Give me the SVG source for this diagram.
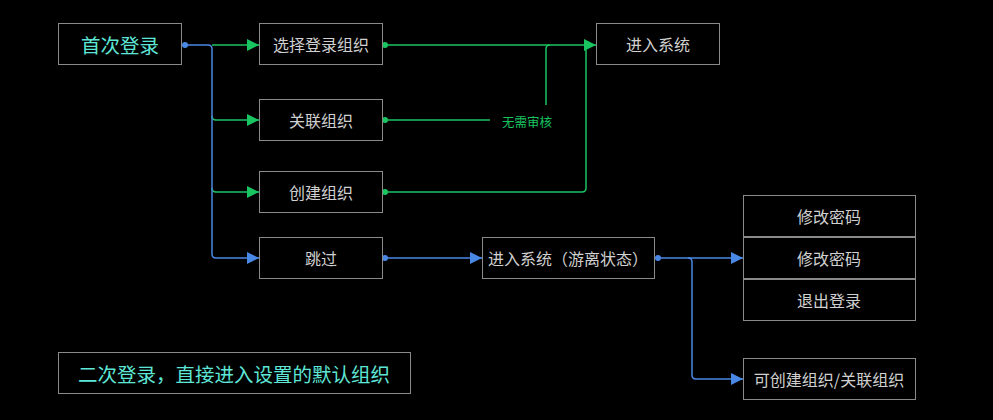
<svg xmlns="http://www.w3.org/2000/svg" width="993" height="420" viewBox="0 0 993 420">
<style>
.box{fill:#000;stroke:#8a8a8a;stroke-width:1}
.t{font-family:"Noto Sans CJK SC","Noto Sans",sans-serif;font-size:16px;fill:#d0d0d0;text-anchor:middle;dominant-baseline:central}
.big{font-size:19.5px;fill:#5ee6d6}
.g{fill:none;stroke:#19c461;stroke-width:1.5}
.b{fill:none;stroke:#4a88e6;stroke-width:1.5}
.lbl{font-family:"Noto Sans CJK SC","Noto Sans",sans-serif;font-size:12.5px;fill:#19c461;text-anchor:middle;dominant-baseline:central}
</style>
<defs>
<marker id="ag" viewBox="0 0 12 12" refX="12" refY="6" markerWidth="12" markerHeight="12" markerUnits="userSpaceOnUse" orient="auto"><path d="M0,0L12,6L0,12Z" fill="#19c461"/></marker>
<marker id="ab" viewBox="0 0 12 12" refX="12" refY="6" markerWidth="12" markerHeight="12" markerUnits="userSpaceOnUse" orient="auto"><path d="M0,0L12,6L0,12Z" fill="#4a88e6"/></marker>
</defs>
<rect width="993" height="420" fill="#000"/>
<g id="connectors">
<path class="g" d="M212,45H259" marker-end="url(#ag)"/>
<path class="g" d="M212,116Q212,120 216,120H259" marker-end="url(#ag)"/>
<path class="g" d="M212,188Q212,192 216,192H259" marker-end="url(#ag)"/>
<path class="b" d="M185,45H208Q212,45 212,49V254Q212,258 216,258H259" marker-end="url(#ab)"/>
<circle cx="185" cy="45" r="3" fill="#4a88e6"/>
<path class="g" d="M385,45H596" marker-end="url(#ag)"/>
<circle cx="385" cy="45" r="3" fill="#19c461"/>
<path class="g" d="M385,120H490"/>
<path class="g" d="M546,105V49Q546,45 550,45"/>
<circle cx="385" cy="120" r="3" fill="#19c461"/>
<text class="lbl" x="527" y="121">无需审核</text>
<path class="g" d="M385,192H582Q586,192 586,188V49Q586,45 590,45"/>
<circle cx="385" cy="192" r="3" fill="#19c461"/>
<path class="b" d="M385,258H482" marker-end="url(#ab)"/>
<circle cx="385" cy="258" r="3" fill="#4a88e6"/>
<path class="b" d="M658,258H743" marker-end="url(#ab)"/>
<path class="b" d="M688,258Q692,258 692,262V375Q692,379 696,379H743" marker-end="url(#ab)"/>
<circle cx="658" cy="258" r="3" fill="#4a88e6"/>
</g>
<g id="n-first"><rect class="box" x="58.5" y="23.5" width="123" height="41"/><text class="t big" x="120" y="44">首次登录</text></g>
<g id="n-select"><rect class="box" x="259.5" y="23.5" width="123" height="41"/><text class="t" x="321" y="44">选择登录组织</text></g>
<g id="n-assoc"><rect class="box" x="259.5" y="99.5" width="123" height="41"/><text class="t" x="321" y="120">关联组织</text></g>
<g id="n-create"><rect class="box" x="259.5" y="171.5" width="123" height="41"/><text class="t" x="321" y="192">创建组织</text></g>
<g id="n-skip"><rect class="box" x="259.5" y="237.5" width="123" height="41"/><text class="t" x="321" y="258">跳过</text></g>
<g id="n-enter"><rect class="box" x="596.5" y="23.5" width="123" height="41"/><text class="t" x="658" y="44">进入系统</text></g>
<g id="n-free"><rect class="box" x="482.5" y="237.5" width="172" height="41"/><text class="t" x="568" y="258">进入系统（游离状态）</text></g>
<g id="n-pwd1"><rect class="box" x="743.5" y="195.5" width="172" height="41"/><text class="t" x="829" y="216">修改密码</text></g>
<g id="n-pwd2"><rect class="box" x="743.5" y="237.5" width="172" height="41"/><text class="t" x="829" y="258">修改密码</text></g>
<g id="n-logout"><rect class="box" x="743.5" y="279.5" width="172" height="41"/><text class="t" x="829" y="300">退出登录</text></g>
<g id="n-can"><rect class="box" x="743.5" y="358.5" width="172" height="41"/><text class="t" x="829" y="379">可创建组织/关联组织</text></g>
<g id="n-second"><rect class="box" x="58.5" y="352.5" width="352" height="41"/><text class="t big" x="234" y="373">二次登录，直接进入设置的默认组织</text></g>
</svg>
